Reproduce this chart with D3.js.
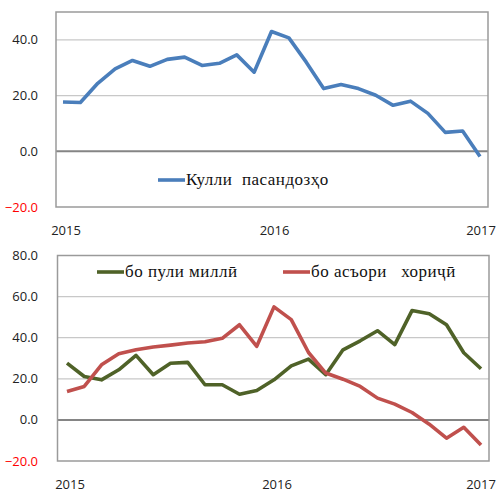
<!DOCTYPE html>
<html>
<head>
<meta charset="utf-8">
<script src="https://cdn.jsdelivr.net/npm/d3@7"></script>
<style>
  body { margin: 0; background: #fff; }
  svg { display: block; }
  .tick-label { font-family: "Open Sans", sans-serif; font-size: 13px; fill: #222; }
  .legend-label { font-family: "Liberation Serif", serif; font-size: 17px; letter-spacing: 0.5px; fill: #111; white-space: pre; }
</style>
</head>
<body>
<div id="chart"></div>
<script>
// monthly, Jan 2015 .. Jan 2017
var months = d3.range(25);
var yearLabels = [{i: 0, t: "2015"}, {i: 12, t: "2016"}, {i: 24, t: "2017"}];

var totalDeposits = [17.7, 17.5, 24.4, 29.6, 32.6, 30.5, 33.0, 33.8, 30.8, 31.6, 34.6, 28.4,
    43.0, 40.7, 32.0, 22.5, 24.0, 22.5, 20.1, 16.5, 18.0, 13.6, 6.8, 7.3, -1.9];
var nationalCurrency = [27.6, 21.1, 19.5, 24.4, 31.4, 22.0, 27.6, 28.0, 17.1, 17.1, 12.5, 14.3,
    19.5, 26.3, 29.6, 22.0, 34.1, 38.5, 43.4, 36.6, 53.2, 51.7, 46.3, 32.7, 24.9];
var foreignCurrency = [13.8, 16.3, 26.8, 32.2, 34.1, 35.5, 36.4, 37.4, 38.0, 39.7, 46.3, 35.8,
    55.0, 48.8, 32.8, 22.8, 19.8, 16.3, 10.6, 7.7, 3.6, -2.1, -8.9, -3.6, -12.2];

var topTicks = [-20, 0, 20, 40];
var bottomTicks = [-20, 0, 20, 40, 60, 80];

var width = 497, height = 492;
var svg = d3.select("#chart").append("svg")
    .attr("width", width)
    .attr("height", height);

function drawPanel(opt) {
    var g = svg.append("g");
    var x = d3.scaleLinear().domain([0, 24]).range([opt.x0, opt.x1]);
    var y = d3.scaleLinear().domain(opt.domain).range([opt.bottom, opt.top]);

    // gridlines
    g.selectAll(".grid").data(opt.ticks.filter(function(t){ return t != 0 && t != opt.domain[0]; }))
        .enter().append("line")
        .attr("x1", opt.left).attr("x2", opt.right)
        .attr("y1", function(d){ return y(d); }).attr("y2", function(d){ return y(d); })
        .attr("stroke", "#c8c8c8").attr("stroke-width", 1.2);

    // zero line
    g.append("line")
        .attr("x1", opt.left).attr("x2", opt.right)
        .attr("y1", y(0)).attr("y2", y(0))
        .attr("stroke", "#858585").attr("stroke-width", 2);

    // frame
    g.append("rect")
        .attr("x", opt.left).attr("y", opt.top)
        .attr("width", opt.right - opt.left).attr("height", opt.bottom - opt.top)
        .attr("fill", "none").attr("stroke", "#9a9a9a").attr("stroke-width", 1.5);

    // y labels
    g.selectAll(".ylab").data(opt.ticks).enter().append("text")
        .attr("class", "tick-label")
        .attr("x", 38).attr("y", function(d){ return y(d); })
        .attr("dy", "0.35em")
        .attr("text-anchor", "end")
        .style("fill", function(d){ return d < 0 ? "#ff0000" : "#222"; })
        .text(function(d){ return d3.format(".1f")(d); });

    // x labels (last one kept inside the window)
    g.selectAll(".xlab").data(yearLabels).enter().append("text")
        .attr("class", "tick-label")
        .attr("x", function(d){ return Math.min(x(d.i) + 3, width - 16); })
        .attr("y", opt.bottom + 23)
        .attr("dy", "0.35em")
        .attr("text-anchor", "middle")
        .text(function(d){ return d.t; });

    var line = d3.line()
        .x(function(d, i){ return x(i); })
        .y(function(d){ return y(d); });

    opt.series.forEach(function(s) {
        g.append("path")
            .datum(s.values)
            .attr("d", line)
            .attr("fill", "none")
            .attr("stroke", s.color)
            .attr("stroke-width", 3.6)
            .attr("stroke-linejoin", "round");

        g.append("line")
            .attr("x1", s.lx).attr("x2", s.lx + 27)
            .attr("y1", s.ly).attr("y2", s.ly)
            .attr("stroke", s.color).attr("stroke-width", 3.6);
        g.append("text")
            .attr("class", "legend-label")
            .attr("x", s.lx + 28).attr("y", s.ly + 5)
            .text(s.name);
    });
}

drawPanel({
    left: 56, right: 488, top: 12, bottom: 207,
    x0: 63, x1: 480,
    domain: [-20, 50], ticks: topTicks,
    series: [
        {name: "Кулли  пасандозҳо", values: totalDeposits, color: "#4a7ebb", lx: 158, ly: 180}
    ]
});

drawPanel({
    left: 57.5, right: 489, top: 255.5, bottom: 461,
    x0: 67, x1: 481,
    domain: [-20, 80], ticks: bottomTicks,
    series: [
        {name: "бо пули миллӣ", values: nationalCurrency, color: "#4f6228", lx: 97, ly: 272},
        {name: "бо асъори   хориҷӣ", values: foreignCurrency, color: "#c0504d", lx: 283, ly: 272}
    ]
});
</script>
</body>
</html>
